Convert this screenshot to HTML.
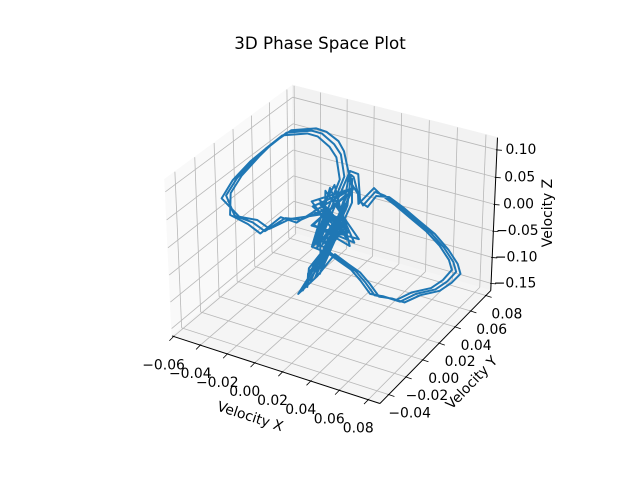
<!DOCTYPE html>
<html><head><meta charset="utf-8"><style>
html,body{margin:0;padding:0;background:#fff;}
svg{display:block;font-family:"DejaVu Sans","Liberation Sans",sans-serif;}
</style></head><body>
<svg id="chart" width="640" height="480" viewBox="0 0 640 480">
<text x="320" y="49" text-anchor="middle" font-size="16.7" fill="#000">3D Phase Space Plot</text>
<g id="panes"></g><g id="grid"></g><g id="axes"></g><g id="series"></g>
</svg>
<script>
const xTicks = [-0.06, -0.04, -0.02, 0.00, 0.02, 0.04, 0.06, 0.08];
const yTicks = [-0.04, -0.02, 0.00, 0.02, 0.04, 0.06, 0.08];
const zTicks = [-0.15, -0.10, -0.05, 0.00, 0.05, 0.10];
const xTickLabels = ["−0.06","−0.04","−0.02","0.00","0.02","0.04","0.06","0.08"];
const yTickLabels = ["−0.04","−0.02","0.00","0.02","0.04","0.06","0.08"];
const zTickLabels = ["−0.15","−0.10","−0.05","0.00","0.05","0.10"];
const xLim = [-0.0612, 0.088];
const yLim = [-0.05, 0.0865];
const zLim = [-0.164, 0.122];
const trajectory = [
[0.008,0.018,0.015],[0.014,0.010,0.040],[0.004,0.012,-0.030],[0.015,0.012,0.030],[0.020,0.020,-0.010],[0.010,0.008,0.050],[0.025,0.015,0.010],[0.005,0.018,-0.040],[0.018,0.025,0.035],[0.012,0.005,-0.060],[0.022,0.010,0.020],[0.009,0.005,-0.018],[0.012,0.032,0.070],[0.002,0.044,0.088],[-0.008,0.052,0.090],[-0.020,0.057,0.095],[-0.029,0.059,0.092],[-0.039,0.046,0.098],[-0.045,0.036,0.082],[-0.049,0.025,0.070],[-0.052,0.010,0.052],[-0.052,-0.002,0.036],[-0.041,-0.009,0.016],[-0.030,-0.006,0.008],[-0.019,-0.009,0.004],[-0.010,0.000,0.022],[-0.002,0.005,0.018],[0.010,0.012,0.035],[0.008,0.022,0.060],[0.028,0.018,-0.020],[0.003,0.010,0.005],[0.016,0.028,0.045],[0.010,0.002,-0.075],[0.023,0.018,0.044],[0.018,0.030,0.080],[0.023,0.025,0.086],[0.030,0.020,0.060],[0.034,0.018,0.052],[0.040,0.022,0.075],[0.045,0.025,0.068],[0.054,0.028,0.050],[0.062,0.032,0.028],[0.071,0.036,0.005],[0.079,0.039,-0.021],[0.082,0.046,-0.055],[0.081,0.052,-0.083],[0.076,0.050,-0.102],[0.070,0.046,-0.116],[0.063,0.034,-0.112],[0.057,0.025,-0.118],[0.052,0.018,-0.104],[0.047,0.011,-0.093],[0.042,0.008,-0.068],[0.037,0.005,-0.047],[0.028,0.006,-0.040],[0.019,0.005,-0.027],[0.012,-0.004,-0.060],[0.008,-0.009,-0.085],[0.010,0.000,-0.050],[0.020,0.015,0.000],[0.000,0.015,0.030],[0.024,0.022,0.070],[0.014,0.010,-0.030],[0.009,0.005,-0.018],
[0.010,0.020,0.010],[0.016,0.008,0.045],[0.006,0.010,-0.036],[0.018,0.014,0.025],[0.022,0.018,-0.015],[0.008,0.010,0.055],[0.027,0.013,0.005],[0.004,0.020,-0.035],[0.020,0.023,0.040],[0.011,0.007,-0.065],[0.011,0.006,-0.012],[0.014,0.034,0.074],[0.003,0.046,0.092],[-0.006,0.054,0.094],[-0.018,0.059,0.097],[-0.027,0.061,0.095],[-0.037,0.048,0.101],[-0.044,0.038,0.086],[-0.047,0.027,0.073],[-0.050,0.012,0.055],[-0.050,0.000,0.039],[-0.043,-0.011,0.019],[-0.032,-0.008,0.006],[-0.021,-0.011,0.001],[-0.012,-0.002,0.025],[-0.004,0.003,0.014],[0.008,0.014,0.038],[0.010,0.024,0.064],[0.026,0.016,-0.025],[0.005,0.008,0.010],[0.018,0.026,0.050],[0.008,0.000,-0.080],[0.021,0.016,0.040],[0.016,0.032,0.083],[0.025,0.027,0.090],[0.032,0.018,0.057],[0.036,0.020,0.048],[0.042,0.020,0.072],[0.047,0.027,0.064],[0.056,0.030,0.046],[0.064,0.034,0.024],[0.073,0.038,0.001],[0.081,0.041,-0.026],[0.084,0.048,-0.060],[0.083,0.054,-0.088],[0.078,0.052,-0.106],[0.072,0.048,-0.120],[0.065,0.036,-0.116],[0.059,0.027,-0.121],[0.054,0.020,-0.107],[0.049,0.013,-0.097],[0.044,0.010,-0.072],[0.039,0.007,-0.051],[0.030,0.008,-0.044],[0.021,0.007,-0.031],[0.014,-0.002,-0.064],[0.006,-0.011,-0.090],[0.012,0.002,-0.046],[0.022,0.017,0.005],[0.002,0.013,0.025],[0.022,0.024,0.065],[0.016,0.008,-0.035],[0.007,0.003,-0.022],
[0.006,0.016,0.020],[0.012,0.012,0.036],[0.002,0.014,-0.026],[0.013,0.010,0.028],[0.018,0.022,-0.005],[0.012,0.006,0.045],[0.023,0.017,0.015],[0.007,0.016,-0.045],[0.016,0.027,0.030],[0.014,0.003,-0.055],[0.024,0.012,0.025],[0.007,0.004,-0.022],[0.010,0.030,0.066],[0.000,0.042,0.084],[-0.010,0.050,0.086],[-0.022,0.055,0.091],[-0.031,0.057,0.088],[-0.041,0.044,0.094],[-0.047,0.034,0.078],[-0.051,0.023,0.066],[-0.054,0.008,0.049],[-0.054,-0.004,0.032],[-0.039,-0.007,0.013],[-0.028,-0.004,0.011],[-0.017,-0.007,0.007],[-0.008,0.002,0.019],[0.000,0.007,0.022],[0.012,0.010,0.032],[0.006,0.020,0.056],[0.030,0.020,-0.015],[0.001,0.012,0.000],[0.014,0.030,0.040],[0.012,0.004,-0.070],[0.025,0.020,0.048],[0.020,0.028,0.077],[0.021,0.023,0.082],[0.028,0.022,0.063],[0.032,0.016,0.056],[0.038,0.024,0.078],[0.043,0.023,0.072],[0.052,0.026,0.054],[0.060,0.030,0.032],[0.069,0.034,0.009],[0.077,0.037,-0.016],[0.080,0.044,-0.050],[0.079,0.050,-0.078],[0.074,0.048,-0.098],[0.068,0.044,-0.112],[0.061,0.032,-0.108],[0.055,0.023,-0.114],[0.050,0.016,-0.100],[0.045,0.009,-0.089],[0.040,0.006,-0.064],[0.035,0.003,-0.043],[0.026,0.004,-0.036],[0.017,0.003,-0.023],[0.010,-0.006,-0.056],[0.010,-0.007,-0.080],[0.008,-0.002,-0.054],[0.018,0.013,-0.005],[-0.002,0.017,0.035],[0.026,0.020,0.075],[0.012,0.012,-0.025],[0.011,0.007,-0.014]
];

const NS = "http://www.w3.org/2000/svg";
function proj(x, y, z) {
  const px = ((x - xLim[0]) / (xLim[1] - xLim[0]) - 0.5) * 1.1428;
  const py = ((y - yLim[0]) / (yLim[1] - yLim[0]) - 0.5) * 1.1428;
  const pz = ((z - zLim[0]) / (zLim[1] - zLim[0]) - 0.5) * 0.8571;
  const pu = 0.866 * px + 0.5 * py;
  const pv = -0.25 * px + 0.433 * py + 0.866 * pz;
  const pw = 0.433 * px - 0.75 * py + 0.5 * pz;
  const d = 10 - pw;
  return [334.2 + 2085 * pu / d, 237.1 - 2085 * pv / d];
}
function mk(tag, attrs, parent) {
  const e = document.createElementNS(NS, tag);
  for (const k in attrs) e.setAttribute(k, attrs[k]);
  parent.appendChild(e);
  return e;
}
function poly(pts) { return pts.map(p => p[0].toFixed(2) + "," + p[1].toFixed(2)).join(" "); }

const panes = document.getElementById("panes");
const grid = document.getElementById("grid");
const axes = document.getElementById("axes");
const series = document.getElementById("series");
const [x0, x1] = xLim, [y0, y1] = yLim, [z0, z1] = zLim;

let e;
e = mk("polygon", {points: poly([proj(x0,y0,z0),proj(x0,y1,z0),proj(x0,y1,z1),proj(x0,y0,z1)]), fill: "#f9f9f9", stroke: "#f9f9f9"}, panes);


e = mk("polygon", {points: poly([proj(x0,y1,z0),proj(x1,y1,z0),proj(x1,y1,z1),proj(x0,y1,z1)]), fill: "#f2f2f2", stroke: "#f2f2f2"}, panes);


e = mk("polygon", {points: poly([proj(x0,y0,z0),proj(x1,y0,z0),proj(x1,y1,z0),proj(x0,y1,z0)]), fill: "#f5f5f5", stroke: "#f5f5f5"}, panes);



function gline(a, b, name) {
  const l = mk("line", {x1: a[0], y1: a[1], x2: b[0], y2: b[1], stroke: "#b8b8b8", "stroke-width": 0.8}, grid);
  
  
}
xTicks.forEach(t => { gline(proj(t,y0,z0), proj(t,y1,z0), "x-gridline"); gline(proj(t,y1,z0), proj(t,y1,z1), "x-gridline"); });
yTicks.forEach(t => { gline(proj(x0,t,z0), proj(x1,t,z0), "y-gridline"); gline(proj(x0,t,z0), proj(x0,t,z1), "y-gridline"); });
zTicks.forEach(t => { gline(proj(x0,y0,t), proj(x0,y1,t), "z-gridline"); gline(proj(x0,y1,t), proj(x1,y1,t), "z-gridline"); });

function aline(a, b, name, w) {
  const l = mk("line", {x1: a[0], y1: a[1], x2: b[0], y2: b[1], stroke: "#000", "stroke-width": w}, axes);
  
  
}
function txt(x, y, s, name, anchor, rot, size) {
  const t = mk("text", {x: x, y: y, "text-anchor": anchor, "font-size": size, fill: "#000", "dominant-baseline": "central"}, axes);
  if (rot) t.setAttribute("transform", "rotate(" + rot + " " + x + " " + y + ")");
  t.textContent = s;
  
  
}
aline(proj(x0,y0,z0), proj(x1,y0,z0), "x-axis-line", 1);
aline(proj(x1,y0,z0), proj(x1,y1,z0), "y-axis-line", 1);
aline(proj(x1,y1,z0), proj(x1,y1,z1), "z-axis-line", 1);

xTicks.forEach((t, i) => {
  const p = proj(t, y0, z0);
  aline([p[0]+0.7, p[1]-0.7], [p[0]-4.2, p[1]+4.3], "x-tick", 0.8);
  txt(p[0]-10, p[1]+29, xTickLabels[i], "x-tick-label", "middle", 0, 13.9);
});
yTicks.forEach((t, i) => {
  const p = proj(x1, t, z0);
  aline([p[0]-0.9, p[1]-0.3], [p[0]+5.7, p[1]+1.9], "y-tick", 0.8);
  txt(p[0]+21, p[1]+19, yTickLabels[i], "y-tick-label", "middle", 0, 13.9);
});
zTicks.forEach((t, i) => {
  const p = proj(x1, y1, t);
  aline([p[0]-1, p[1]], [p[0]+5, p[1]+0.5], "z-tick", 0.8);
  txt(p[0]+24, p[1], zTickLabels[i], "z-tick-label", "middle", 0, 13.9);
});
txt(250, 417, "Velocity X", "x-axis-title", "middle", 18, 13.9);
txt(472, 383, "Velocity Y", "y-axis-title", "middle", -46, 13.9);
txt(548, 213, "Velocity Z", "z-axis-title", "middle", -90, 13.9);

const path = mk("polyline", {points: poly(trajectory.map(p => proj(p[0], p[1], p[2]))), fill: "none", stroke: "#1f77b4", "stroke-width": 2, "stroke-linejoin": "round"}, series);


</script>
</body></html>
